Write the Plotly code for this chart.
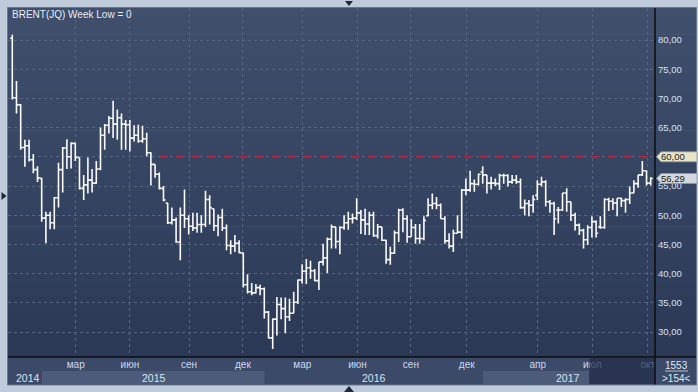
import plotly.graph_objects as go

# ---------------- data (weekly OHLC, Brent) ----------------
opens = [80.3,70.1,68.9,61.6,61.9,59.5,57.8,56.3,49.5,50.0,48.7,53.0,57.8,61.5,60.0,62.3,59.9,54.6,55.2,56.0,
         55.5,57.9,63.7,65.4,66.6,65.6,66.7,65.6,65.5,63.2,
         63.7,62.7,63.1,60.7,58.7,57.0,54.6,52.1,48.7,49.2,45.4,50.0,49.4,48.1,47.8,48.4,48.4,52.7,51.1,48.2,
         49.6,47.8,44.8,44.7,45.2,43.5,38.1,36.9,36.7,37.6,37.4,
         33.4,29.0,32.2,34.7,34.0,32.6,33.2,35.1,38.9,40.4,41.0,40.5,38.8,42.0,42.7,45.9,48.0,45.5,47.9,48.7,
         49.4,49.5,50.4,49.2,48.5,50.0,46.5,48.0,45.7,42.4,43.5,
         47.0,50.9,49.4,46.3,47.9,46.0,46.0,49.9,51.7,52.0,51.7,49.4,45.6,44.7,46.9,47.1,54.3,54.3,55.4,55.3,
         57.4,56.9,55.5,55.5,55.4,56.8,56.8,55.7,56.0,55.7,51.3,
         52.0,51.7,53.4,55.3,55.7,52.3,52.0,50.9,50.9,53.8,52.3,50.0,48.3,47.4,45.8,47.9,48.9,48.0,47.9,52.7,
         52.4,52.1,52.9,52.5,52.7,53.8,55.4,56.9,57.6,55.5]
highs = [80.9,73.0,69.0,62.9,62.9,60.5,58.4,56.4,50.6,50.6,53.1,59.0,61.7,63.0,62.5,62.4,59.9,56.9,59.9,57.9,
         59.3,65.0,65.6,67.0,69.6,68.1,67.4,66.3,66.3,65.4,
         65.5,65.3,64.1,60.8,58.7,57.3,55.0,52.1,51.3,49.6,51.3,54.4,50.0,50.4,50.4,50.0,54.2,53.4,51.1,50.1,
         51.1,48.4,45.7,46.6,45.7,43.6,39.9,38.4,38.2,38.1,37.6,
         33.6,32.3,36.0,35.9,35.9,35.7,36.9,39.0,41.6,42.5,42.2,40.8,42.0,45.1,46.2,48.4,48.0,48.1,50.0,50.6,
         50.3,52.9,50.9,51.1,50.6,50.6,48.5,48.0,45.8,44.6,47.4,
         51.1,51.2,50.0,49.3,48.5,48.5,49.8,52.9,53.7,53.1,52.0,49.8,46.9,47.5,50.0,54.5,56.3,57.6,56.1,57.1,
         58.4,56.9,56.6,56.3,57.1,57.1,57.0,56.9,56.9,56.3,52.7,
         52.6,53.4,56.0,56.6,56.0,52.6,52.3,51.4,53.8,54.6,52.3,50.4,48.6,47.7,48.3,49.8,49.1,49.8,52.9,53.0,
         52.9,52.9,53.0,52.9,54.9,56.0,56.9,59.3,57.6,56.5]
lows = [69.8,67.4,61.2,58.3,59.2,57.2,55.7,48.9,45.2,47.6,47.6,51.3,53.9,57.9,58.0,59.3,54.4,52.6,53.7,53.9,
        55.4,57.7,61.2,64.0,63.2,62.9,61.2,61.2,60.9,62.6,
        62.4,62.4,60.1,55.1,56.4,54.4,52.4,48.5,48.4,45.3,42.3,47.8,46.7,47.3,47.0,47.0,48.0,48.4,47.3,46.4,
        47.3,44.0,43.3,43.7,43.5,37.6,36.6,36.3,36.6,36.3,32.3,
        28.9,27.1,29.4,32.2,29.8,31.9,33.2,34.8,38.3,38.2,39.1,38.7,37.2,41.4,40.1,44.3,44.3,43.3,47.5,47.5,
        48.6,49.2,46.8,46.6,46.6,46.3,46.0,45.6,41.7,41.5,43.4,
        45.4,47.1,45.3,46.3,45.1,45.1,45.7,49.8,51.0,51.0,49.4,45.1,44.3,43.7,46.9,46.0,53.4,54.0,54.0,55.1,
        55.4,53.7,54.4,55.0,54.3,55.4,54.9,55.4,55.4,51.1,50.0,
        49.8,50.4,52.6,54.9,51.5,50.4,46.6,48.6,50.7,50.6,49.0,47.4,46.6,44.3,44.9,46.2,46.2,47.7,47.7,50.7,
        50.9,49.8,51.4,50.4,51.9,53.8,54.7,56.7,55.1,55.1]
closes = [70.1,68.9,61.6,61.9,59.5,57.8,56.4,49.5,50.0,48.7,53.0,57.8,61.5,60.0,62.3,59.9,54.6,55.2,56.0,55.5,
          57.9,63.7,65.4,66.6,65.6,66.7,65.6,65.5,63.2,63.7,
          62.7,63.1,60.7,58.7,57.0,54.6,52.6,48.7,49.2,45.4,50.0,49.4,48.1,47.8,48.4,48.4,52.7,51.3,48.2,49.6,
          47.8,44.8,44.7,45.2,43.6,38.1,36.9,36.7,37.6,37.4,33.4,
          29.0,32.2,34.7,34.0,32.6,33.2,35.1,38.9,40.4,41.0,40.5,38.8,42.0,42.7,45.9,48.0,45.5,47.9,48.7,49.4,
          49.5,50.4,49.2,48.5,50.0,46.5,48.0,45.7,42.4,43.5,47.0,
          50.9,49.4,46.3,47.9,46.0,46.0,49.1,51.7,52.0,51.7,49.4,45.6,44.7,46.9,47.1,54.3,54.3,55.4,55.3,57.0,
          56.9,55.5,55.5,55.4,56.8,56.8,55.7,56.0,55.7,51.3,52.0,
          51.7,52.7,55.3,55.7,52.3,52.0,49.4,50.9,53.8,52.3,50.0,48.3,47.4,45.8,47.9,48.9,46.9,47.9,52.7,52.4,
          52.1,52.9,52.5,52.7,53.8,55.4,56.9,57.6,55.5,56.29]
bars = list(range(len(closes)))

month_labels = ["мар", "июн", "сен", "дек", "мар", "июн", "сен", "дек", "апр", "июл", "окт"]
month_ticks = [15.1, 28.0, 42.1, 54.9, 69.05, 82.2, 94.9, 108.2, 125.1, 138.1, 151.3]
year_labels = ["2014", "2015", "2016", "2017"]
year_centers = [3.7, 33.7, 86.1, 132.3]
price_ticks = [30, 35, 40, 45, 50, 55, 60, 65, 70, 75, 80]
alert_level = 60.0
alert_start = 35.2
title_text = "BRENT(JQ) Week Low = 0"
counter_top = "1553"
counter_bottom = ">154<"

def fmt(v):
    return ("%.2f" % v).replace(".", ",")

# the alert tag carries the 60,00 label, so the axis label under it is left blank
price_labels = ["" if p == alert_level else fmt(p) for p in price_ticks]

# ---------------- figure ----------------
W, H = 698, 392
ML, MR, MT, MB = 8, 43, 8, 35
PW, PH = W - ML - MR, H - MT - MB

def px_x(px):  # pixel -> paper x
    return (px - ML) / PW

def px_y(py):  # pixel -> paper y
    return 1 - (py - MT) / PH

FONT = "Liberation Sans"
fig = go.Figure()
fig.add_trace(go.Ohlc(
    x=bars, open=opens, high=highs, low=lows, close=closes,
    increasing=dict(line=dict(color="#fbfbfb", width=1.6)),
    decreasing=dict(line=dict(color="#fbfbfb", width=1.6)),
    tickwidth=0.5, hoverinfo="skip", showlegend=False,
))

shapes = []
# gradient background of the chart panel
top = (63, 79, 108)
bot = (43, 57, 87)
N = 40
for i in range(N):
    t = i / (N - 1)
    c = tuple(round(top[k] + (bot[k] - top[k]) * t) for k in range(3))
    shapes.append(dict(type="rect", xref="paper", yref="paper", layer="below",
                       x0=0, x1=px_x(696), y0=1 - i / N, y1=1 - (i + 1) / N - 0.002,
                       fillcolor="rgb(%d,%d,%d)" % c, line=dict(width=0)))
# bottom time band
shapes.append(dict(type="rect", xref="paper", yref="paper", layer="below",
                   x0=0, x1=px_x(696), y0=px_y(385), y1=0,
                   fillcolor="#3b4a68", line=dict(width=0)))
for a, b in [(7.07, 60.0), (112.1, 137.3)]:
    shapes.append(dict(type="rect", xref="x", yref="paper", layer="below",
                       x0=a, x1=b, y0=px_y(384), y1=px_y(371),
                       fillcolor="#4b5b79", line=dict(width=0)))
# dim overlay (visible window marker)
shapes.append(dict(type="rect", xref="x", yref="paper", layer="above",
                   x0=137.4, x1=153.02, y0=px_y(384), y1=px_y(358),
                   fillcolor="rgba(34,45,70,0.72)", line=dict(width=0)))
# axis separators
shapes.append(dict(type="line", xref="paper", yref="paper", layer="above",
                   x0=0, x1=px_x(696), y0=0, y1=0, line=dict(color="#0c0c10", width=1.5)))
shapes.append(dict(type="line", xref="paper", yref="paper", layer="above",
                   x0=1, x1=1, y0=px_y(385), y1=1, line=dict(color="#0c0c10", width=1.5)))
# counter separator
shapes.append(dict(type="line", xref="paper", yref="paper", layer="above",
                   x0=px_x(665), x1=px_x(688), y0=px_y(371), y1=px_y(371),
                   line=dict(color="#b8c2d2", width=1)))
# panel border
shapes.append(dict(type="rect", xref="paper", yref="paper", layer="above",
                   x0=px_x(7.5), x1=px_x(696.5), y0=px_y(385), y1=px_y(7.5),
                   line=dict(color="#6a788e", width=1)))
# alert line
shapes.append(dict(type="line", xref="x", yref="y", layer="above",
                   x0=alert_start, x1=153.02, y0=alert_level, y1=alert_level,
                   line=dict(color="#b8253a", width=1.5, dash="8px,8px")))

# price label boxes on right axis
def tag(level, fill):
    h = 0.86
    x_tip, x_base, x_end = px_x(656.5), px_x(661), px_x(697)
    path = "M %f,%f L %f,%f L %f,%f L %f,%f L %f,%f Z" % (
        x_tip, level, x_base, level + h, x_end, level + h, x_end, level - h, x_base, level - h)
    return dict(type="path", xref="paper", yref="y", layer="above", path=path,
                fillcolor=fill, line=dict(color="#8d96a6", width=0.8))

shapes.append(tag(alert_level, "#e8e5c6"))
shapes.append(tag(closes[-1], "#d4d7de"))

# decorative frame triangles
shapes.append(dict(type="path", xref="paper", yref="paper", layer="above",
                   path="M %f,%f L %f,%f L %f,%f Z" % (px_x(345), px_y(1), px_x(353), px_y(1), px_x(349), px_y(6)),
                   fillcolor="#1d2738", line=dict(width=0)))
shapes.append(dict(type="path", xref="paper", yref="paper", layer="above",
                   path="M %f,%f L %f,%f L %f,%f Z" % (px_x(344), px_y(392), px_x(354), px_y(392), px_x(349), px_y(386)),
                   fillcolor="#1d2738", line=dict(width=0)))
shapes.append(dict(type="path", xref="paper", yref="paper", layer="above",
                   path="M %f,%f L %f,%f L %f,%f Z" % (px_x(1.5), px_y(192), px_x(1.5), px_y(200), px_x(6.5), px_y(196)),
                   fillcolor="#1d2738", line=dict(width=0)))

annotations = [
    dict(text=title_text, xref="paper", yref="paper", x=px_x(10), y=px_y(15),
         xanchor="left", yanchor="middle", showarrow=False,
         font=dict(family=FONT, size=10, color="#e6edf7")),
    dict(text=fmt(alert_level), xref="paper", yref="y", x=px_x(659.5), y=alert_level,
         xanchor="left", yanchor="middle", showarrow=False,
         font=dict(family=FONT, size=9.5, color="#1b1b1b")),
    dict(text=fmt(closes[-1]), xref="paper", yref="y", x=px_x(659.5), y=closes[-1],
         xanchor="left", yanchor="middle", showarrow=False,
         font=dict(family=FONT, size=9.5, color="#1b1b1b")),
    dict(text=counter_top, xref="paper", yref="paper", x=px_x(676), y=px_y(365.5),
         xanchor="center", yanchor="middle", showarrow=False,
         font=dict(family=FONT, size=10, color="#dfe7f3")),
    dict(text=counter_bottom, xref="paper", yref="paper", x=px_x(676), y=px_y(378),
         xanchor="center", yanchor="middle", showarrow=False,
         font=dict(family=FONT, size=10, color="#dfe7f3")),
]
for lab, cx in zip(year_labels, year_centers):
    annotations.append(dict(text=lab, xref="x", yref="paper", x=cx, y=px_y(377.5),
                            xanchor="center", yanchor="middle", showarrow=False,
                            font=dict(family=FONT, size=10.5, color="#dbe3ef")))

fig.update_layout(
    width=W, height=H,
    margin=dict(l=ML, r=MR, t=MT, b=MB, pad=0),
    paper_bgcolor="#bfcbda",
    plot_bgcolor="rgba(0,0,0,0)",
    showlegend=False,
    shapes=shapes,
    annotations=annotations,
    xaxis=dict(
        range=[-1.02, 153.02], rangeslider=dict(visible=False),
        tickmode="array", tickvals=month_ticks, ticktext=month_labels,
        showgrid=True, gridcolor="#56657f", griddash="3px,3px", gridwidth=1,
        ticks="", showline=False, zeroline=False,
        tickfont=dict(family=FONT, size=10, color="#cfd9ea"),
        fixedrange=True,
    ),
    yaxis=dict(
        side="right", range=[25.72, 85.48],
        tickmode="array", tickvals=price_ticks, ticktext=price_labels,
        showgrid=True, gridcolor="#56657f", griddash="3px,3px", gridwidth=1,
        ticks="", showline=False, zeroline=False, ticklabelstandoff=2,
        tickfont=dict(family=FONT, size=9.5, color="#d8e2f1"),
        fixedrange=True,
    ),
)

fig.write_html(
    "out.html",
    config={"displayModeBar": False, "staticPlot": True},
    post_script="document.body.style.margin='0';document.body.style.padding='0';"
                "document.body.style.background='#bfcbda';document.body.style.overflow='hidden';",
)
